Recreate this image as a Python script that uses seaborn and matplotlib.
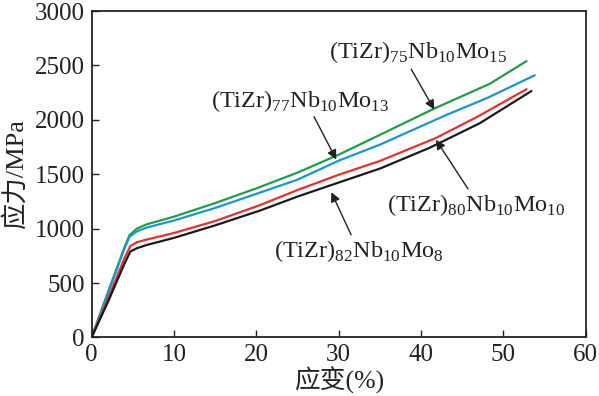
import matplotlib
matplotlib.use("Agg")
import matplotlib.pyplot as plt
import numpy as np
import pandas as pd
import seaborn as sns

# stress-strain curves
strain_75 = [0, 2, 4, 4.6, 5.5, 6.7, 10, 15, 20, 25, 30, 35, 41.6, 48.3, 52.8]
stress_75 = [0, 420, 830, 940, 1000, 1040, 1110, 1235, 1370, 1515, 1680, 1862, 2104, 2330, 2540]

strain_77 = [0, 2, 4, 4.6, 5.5, 6.7, 10, 15, 20, 25, 30, 35, 43, 48, 53.8]
stress_77 = [0, 410, 820, 925, 975, 1010, 1075, 1190, 1320, 1450, 1625, 1772, 2043, 2200, 2410]

strain_80 = [0, 2, 4, 4.7, 5.5, 6.7, 10, 15, 20.4, 25, 30, 35, 41.8, 47, 52.8]
stress_80 = [0, 360, 730, 840, 875, 900, 960, 1070, 1215, 1355, 1495, 1622, 1833, 2035, 2282]

strain_82 = [0, 2, 4, 4.7, 5.5, 6.7, 10, 15, 20.4, 25, 30, 35, 41, 47.1, 53.4]
stress_82 = [0, 330, 680, 790, 820, 850, 915, 1030, 1165, 1295, 1424, 1552, 1742, 1968, 2265]

alloys = ["75", "77", "80", "82"]
colors = {"75": "#1f9e48", "77": "#1a95d8", "80": "#e5312b", "82": "#1a1a1a"}

labels = [
    r"(TiZr)$_{\mathrm{75}}$Nb$_{\mathrm{10}}$Mo$_{\mathrm{15}}$",
    r"(TiZr)$_{\mathrm{77}}$Nb$_{\mathrm{10}}$Mo$_{\mathrm{13}}$",
    r"(TiZr)$_{\mathrm{80}}$Nb$_{\mathrm{10}}$Mo$_{\mathrm{10}}$",
    r"(TiZr)$_{\mathrm{82}}$Nb$_{\mathrm{10}}$Mo$_{\mathrm{8}}$",
]
label_xy = [(39.6, 2620), (25.3, 2176), (46.7, 1217), (32.5, 792)]
arrow_from = [(38.8, 2466), (27.0, 2029), (45.7, 1365), (31.5, 943)]
arrow_to = [(41.6, 2095), (29.7, 1636), (41.8, 1817), (29.1, 1335)]

frames = []
for a, xs, ys in zip(alloys,
                     [strain_75, strain_77, strain_80, strain_82],
                     [stress_75, stress_77, stress_80, stress_82]):
    frames.append(pd.DataFrame({"strain": xs, "stress": ys, "alloy": a}))
df = pd.concat(frames, ignore_index=True)

sns.set_style("ticks")
plt.rcParams["font.family"] = ["Liberation Serif", "Noto Sans CJK SC"]
plt.rcParams["mathtext.fontset"] = "custom"
plt.rcParams["mathtext.rm"] = "Liberation Serif"

fig = plt.figure(figsize=(5.99, 3.96), dpi=100)
ax = fig.add_axes([0.153, 0.148, 0.825, 0.824])

sns.lineplot(data=df, x="strain", y="stress", hue="alloy", palette=colors,
             sort=False, estimator=None, legend=False, linewidth=1.6, ax=ax)

for lab, pos, p0, p1 in zip(labels, label_xy, arrow_from, arrow_to):
    ax.text(pos[0], pos[1], lab, ha="center", va="center", fontsize=17.5, color="#222222")
    ax.annotate("", xy=p1, xytext=p0,
                arrowprops=dict(arrowstyle="-|>", color="#222222", lw=1.0,
                                mutation_scale=14, shrinkA=0, shrinkB=0))

ax.set_xlim(0, 60)
ax.set_ylim(0, 3000)
ax.set_xticks(np.arange(0, 61, 10))
ax.set_yticks(np.arange(0, 3001, 500))
ax.tick_params(direction="in", length=5, width=1, labelsize=18, colors="#222222", pad=5)
for s in ax.spines.values():
    s.set_linewidth(1.3)
    s.set_color("#222222")

ax.set_xlabel("应变(%)", fontsize=18.5, labelpad=0, color="#222222")
ax.set_ylabel("应力/MPa", fontsize=19, labelpad=5, color="#222222")

fig.savefig("out.png", dpi=100, facecolor="white")
